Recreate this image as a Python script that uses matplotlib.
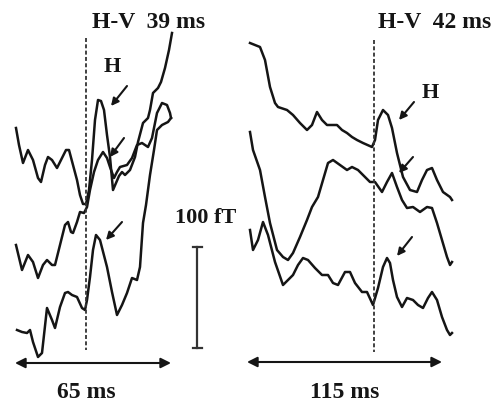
import matplotlib
matplotlib.use("Agg")
import matplotlib.pyplot as plt

# Left panel (H-V 39 ms): three stacked traces, x/y
l1_x = [16, 19, 23, 28, 33, 38, 41, 45, 48, 52, 57, 62, 66, 69, 73, 77, 80, 83, 86, 89, 92, 95, 98, 101,
        104, 107, 110, 113, 116, 119, 122, 125, 130, 135, 138, 143, 148, 150, 153, 158, 161, 165, 169, 172]
l1_y = [128, 145, 163, 150, 160, 178, 182, 165, 157, 160, 168, 158, 150, 150, 165, 180, 195, 204, 204,
        190, 160, 120, 100, 101, 110, 135, 157, 190, 183, 176, 172, 175, 170, 157, 142, 123, 118, 110,
        93, 88, 82, 68, 50, 33]

l2_x = [16, 22, 28, 33, 38, 43, 47, 52, 55, 60, 65, 68, 71, 73, 77, 80, 84, 87, 90, 94, 98, 103, 107,
        110, 114, 117, 120, 127, 132, 137, 142, 148, 152, 157, 162, 167, 170, 171]
l2_y = [245, 270, 255, 262, 278, 265, 260, 265, 265, 245, 225, 222, 232, 233, 222, 212, 213, 207, 190,
        172, 160, 152, 158, 167, 178, 172, 167, 165, 158, 145, 143, 147, 138, 113, 103, 105, 113, 118]

l3_x = [17, 22, 27, 30, 33, 38, 42, 47, 52, 55, 60, 65, 68, 72, 77, 82, 85, 87, 90, 93, 96, 100, 107,
        112, 117, 122, 127, 132, 137, 140, 143, 146, 150, 154, 157, 162, 168, 171]
l3_y = [330, 332, 333, 330, 342, 357, 353, 308, 320, 328, 307, 293, 292, 295, 297, 308, 310, 300, 277,
        250, 235, 240, 267, 292, 315, 305, 293, 278, 280, 267, 223, 205, 175, 150, 130, 125, 122, 118]

# Right panel (H-V 42 ms)
r1_x = [250, 260, 265, 270, 275, 278, 287, 293, 300, 307, 312, 317, 322, 327, 337, 342, 347, 352, 357,
        363, 372, 375, 378, 383, 388, 392, 397, 403, 410, 417, 422, 427, 432, 437, 443, 450, 452]
r1_y = [43, 47, 60, 87, 103, 107, 110, 115, 123, 130, 125, 112, 120, 125, 125, 130, 133, 137, 140, 143,
        147, 140, 120, 110, 115, 128, 153, 177, 190, 192, 180, 170, 168, 180, 192, 197, 200]

r2_x = [250, 253, 260, 265, 270, 277, 283, 288, 293, 300, 307, 312, 318, 323, 328, 333, 340, 347, 352,
        358, 365, 370, 375, 382, 387, 392, 397, 402, 407, 413, 420, 427, 432, 437, 442, 447, 450, 452]
r2_y = [132, 150, 170, 197, 223, 250, 257, 260, 253, 237, 220, 207, 197, 180, 163, 160, 165, 170, 167,
        170, 177, 182, 182, 192, 182, 173, 187, 200, 208, 207, 212, 207, 208, 223, 240, 257, 265, 262]

r3_x = [250, 253, 258, 263, 268, 275, 283, 288, 293, 298, 303, 308, 315, 322, 328, 333, 338, 345, 350,
        355, 362, 367, 373, 378, 383, 387, 390, 393, 397, 402, 407, 413, 418, 423, 428, 432, 437, 442,
        447, 450, 452]
r3_y = [230, 250, 240, 222, 235, 262, 285, 280, 275, 265, 258, 260, 268, 275, 275, 283, 285, 272, 272,
        283, 292, 292, 305, 288, 267, 258, 263, 280, 297, 307, 298, 300, 305, 308, 298, 292, 300, 317,
        330, 335, 333]

traces = [(l1_x, l1_y), (l2_x, l2_y), (l3_x, l3_y), (r1_x, r1_y), (r2_x, r2_y), (r3_x, r3_y)]

# onset markers, labels, arrows
onset_x = [86, 374]
onset_top = [38, 40]
onset_bottom = [350, 352]
hv_labels = ["H-V  39 ms", "H-V  42 ms"]
hv_pos = [(92, 22), (378, 22)]
h_labels = [(112, 67), (430, 93)]
peak_arrows = [((127, 86), (111, 106)), ((124, 138), (110, 157)), ((122, 222), (106, 240)),
               ((414, 102), (399, 120)), ((413, 157), (399, 173)), ((412, 237), (397, 256))]
span_arrows = [((15, 363), (171, 363)), ((247, 362), (442, 362))]
span_labels = ["65 ms", "115 ms"]
span_label_pos = [(86, 392), (345, 393)]

fig = plt.figure(figsize=(5, 4.07), dpi=100)
ax = fig.add_axes([0, 0, 1, 1])
ax.set_xlim(0, 500)
ax.set_ylim(407, 0)
ax.axis("off")

font = dict(family="Liberation Serif", weight="bold", color="#151515")

for x, y in traces:
    ax.plot(x, y, color="#151515", lw=1.8, solid_joinstyle="round")

for x, t, b in zip(onset_x, onset_top, onset_bottom):
    ax.plot([x, x], [t, b], color="#333333", lw=1.3, ls=(0, (2.2, 1.3)))

for s, (x, y) in zip(hv_labels, hv_pos):
    ax.text(x, y, s, fontsize=17, ha="left", va="center", **font)

for x, y in h_labels:
    ax.text(x, y, "H", fontsize=16, ha="center", va="center", **font)

for start, end in peak_arrows:
    ax.annotate("", xy=end, xytext=start,
                arrowprops=dict(arrowstyle="-|>", color="#151515", lw=1.5, mutation_scale=11,
                                shrinkA=0, shrinkB=0))

for start, end in span_arrows:
    ax.annotate("", xy=end, xytext=start,
                arrowprops=dict(arrowstyle="<|-|>", color="#151515", lw=1.5, mutation_scale=15,
                                shrinkA=0, shrinkB=0))

for s, (x, y) in zip(span_labels, span_label_pos):
    ax.text(x, y, s, fontsize=17, ha="center", va="center", **font)

# 100 fT scale bar
ax.plot([197, 197], [247, 348], color="#333333", lw=1.6)
ax.plot([193, 202], [247, 247], color="#333333", lw=1.6)
ax.plot([193, 202], [348, 348], color="#333333", lw=1.6)
ax.text(206, 218, "100 fT", fontsize=16, ha="center", va="center", **font)

fig.savefig("out.png", dpi=100)
